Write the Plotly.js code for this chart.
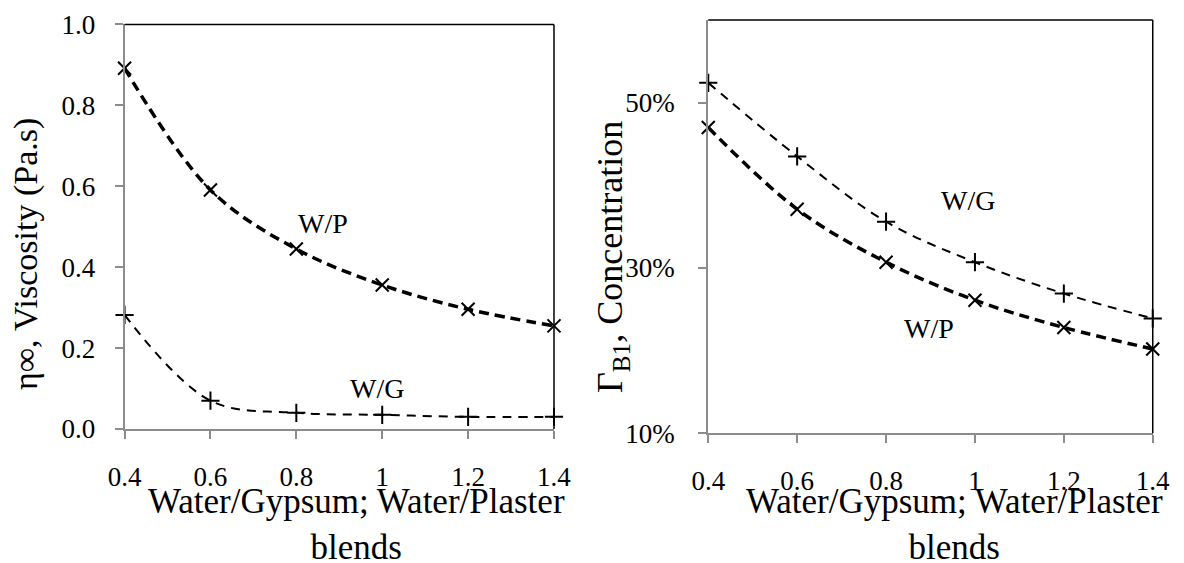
<!DOCTYPE html>
<html>
<head>
<meta charset="utf-8">
<script src="https://cdn.plot.ly/plotly-3.0.1.min.js"></script>
<style>html,body{margin:0;padding:0;background:#fff;}#chart{width:1184px;height:563px;}</style>
</head>
<body>
<div id="chart"></div>
<script>
// ---- data ----
const blendRatio = [0.4, 0.6, 0.8, 1.0, 1.2, 1.4];
// Left: infinite-shear viscosity (Pa.s)
const viscosityWP = [0.892, 0.591, 0.445, 0.356, 0.296, 0.255];
const viscosityWG = [0.282, 0.070, 0.040, 0.035, 0.030, 0.030];
// Right: Gamma_B1 concentration (fraction)
const concWG = [0.524, 0.435, 0.356, 0.307, 0.269, 0.239];
const concWP = [0.470, 0.371, 0.307, 0.261, 0.228, 0.202];
const xTickVals = [0.4, 0.6, 0.8, 1.0, 1.2, 1.4];
const xTickText = ['0.4', '0.6', '0.8', '1', '1.2', '1.4'];
const leftYTicks = [0.0, 0.2, 0.4, 0.6, 0.8, 1.0];
const rightYTicks = [0.1, 0.3, 0.5];
const xTitle = 'Water/Gypsum; Water/Plaster<br>blends';
const leftYTitle = 'η∞, Viscosity (Pa.s)';
const rightYTitle = 'Γ<sub>B1</sub>, Concentration';

const FONT = 'Liberation Serif, Times New Roman, serif';
const GRAY = '#8c8c8c';
const W = 1184, H = 563;

const wpLine = {color: '#000', width: 3.5, dash: '10px,6px', shape: 'spline', smoothing: 1};
const wgLine = {color: '#000', width: 2, dash: '9px,7px', shape: 'spline', smoothing: 1};
const xMarker = {symbol: 'x-thin-open', size: 13, color: '#000', line: {color: '#000', width: 2}};
const pMarker = {symbol: 'cross-thin-open', size: 13, color: '#000', line: {color: '#000', width: 2}};

const traces = [
  {x: blendRatio, y: viscosityWP, xaxis: 'x', yaxis: 'y', mode: 'lines+markers', line: wpLine, marker: xMarker, name: 'W/P', cliponaxis: false},
  {x: blendRatio, y: viscosityWG, xaxis: 'x', yaxis: 'y', mode: 'lines+markers', line: wgLine, marker: pMarker, name: 'W/G', cliponaxis: false},
  {x: blendRatio, y: concWG, xaxis: 'x2', yaxis: 'y2', mode: 'lines+markers', line: wgLine, marker: pMarker, name: 'W/G', cliponaxis: false},
  {x: blendRatio, y: concWP, xaxis: 'x2', yaxis: 'y2', mode: 'lines+markers', line: wpLine, marker: xMarker, name: 'W/P', cliponaxis: false}
];

function xAxis(domain, anchor, labelStandoff) {
  return {
    domain: domain, anchor: anchor, range: [0.4, 1.4],
    tickmode: 'array', tickvals: xTickVals, ticktext: xTickText,
    ticks: 'outside', ticklen: 8, tickwidth: 2, tickcolor: GRAY,
    showline: true, linecolor: GRAY, linewidth: 2,
    showgrid: false, zeroline: false,
    tickfont: {family: FONT, size: 27, color: '#000'},
    ticklabelstandoff: labelStandoff
  };
}
function yAxis(domain, anchor, range, ticks, fmt, labelStandoff) {
  return {
    domain: domain, anchor: anchor, range: range,
    tickmode: 'array', tickvals: ticks, tickformat: fmt,
    ticks: 'outside', ticklen: 8, tickwidth: 2, tickcolor: GRAY,
    showline: true, linecolor: GRAY, linewidth: 2,
    showgrid: false, zeroline: false,
    tickfont: {family: FONT, size: 27, color: '#000'},
    ticklabelstandoff: labelStandoff
  };
}
function border(xa, ya) {
  return [
    {type: 'line', xref: xa + ' domain', yref: ya + ' domain', x0: 0, x1: 1, y0: 1, y1: 1, line: {color: '#000', width: 1.5}},
    {type: 'line', xref: xa + ' domain', yref: ya + ' domain', x0: 1, x1: 1, y0: 0, y1: 1, line: {color: '#000', width: 1.5}}
  ];
}
function paperText(text, px, py, size, angle) {
  return {text: text, xref: 'paper', yref: 'paper', x: px / W, y: 1 - py / H,
    xanchor: 'center', yanchor: 'middle', showarrow: false, textangle: angle || 0,
    font: {family: FONT, size: size, color: '#000'}};
}

const layout = {
  width: W, height: H, autosize: false,
  margin: {l: 0, r: 0, t: 0, b: 0},
  paper_bgcolor: '#fff', plot_bgcolor: '#fff',
  showlegend: false,
  font: {family: FONT, color: '#000'},
  xaxis: xAxis([0.1052, 0.4679], 'y', 15),
  yaxis: yAxis([0.238, 0.9565], 'x', [0, 1.0], leftYTicks, '.1f', 14),
  xaxis2: xAxis([0.5982, 0.9736], 'y2', 14),
  yaxis2: yAxis([0.2304, 0.9645], 'x2', [0.1, 0.6], rightYTicks, '.0%', 18),
  shapes: border('x', 'y').concat(border('x2', 'y2')),
  annotations: [
    {text: 'W/P', xref: 'x', yref: 'y', x: 0.862, y: 0.507, showarrow: false, font: {family: FONT, size: 28, color: '#000'}},
    {text: 'W/G', xref: 'x', yref: 'y', x: 0.987, y: 0.099, showarrow: false, font: {family: FONT, size: 28, color: '#000'}},
    {text: 'W/G', xref: 'x2', yref: 'y2', x: 0.984, y: 0.382, showarrow: false, font: {family: FONT, size: 28, color: '#000'}},
    {text: 'W/P', xref: 'x2', yref: 'y2', x: 0.897, y: 0.227, showarrow: false, font: {family: FONT, size: 28, color: '#000'}},
    // axis titles
    paperText(xTitle, 356.5, 524, 35),
    paperText(xTitle, 954.5, 524, 35),
    paperText(leftYTitle, 26, 254, 34, -90),
    paperText(rightYTitle, 612, 257, 36, -90)
  ]
};

Plotly.newPlot('chart', traces, layout, {displayModeBar: false, staticPlot: true});
</script>
</body>
</html>
